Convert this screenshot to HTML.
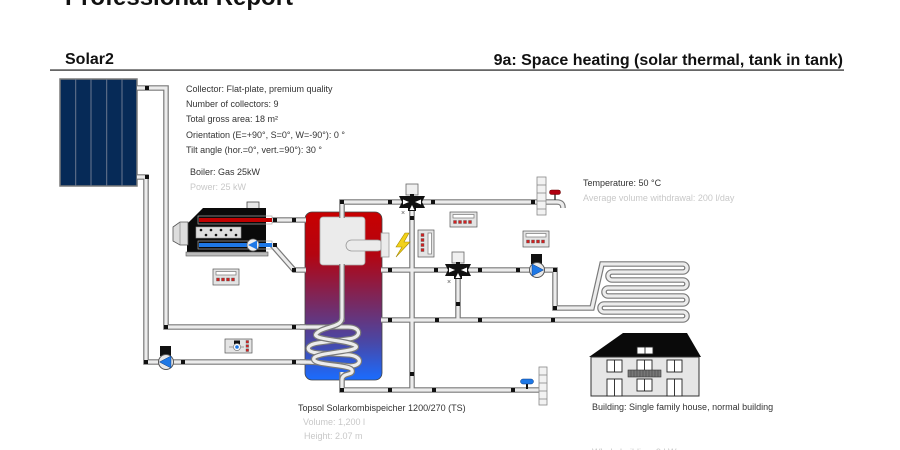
<!DOCTYPE html>
<html><head><meta charset="utf-8">
<style>
html,body{margin:0;padding:0;background:#fff;}
svg{display:block;}
text{font-family:"Liberation Sans",Arial,sans-serif;}
</style></head><body>
<svg width="900" height="450" viewBox="0 0 900 450" xmlns="http://www.w3.org/2000/svg">
<defs>
<linearGradient id="tg" x1="0" y1="0" x2="0" y2="1">
<stop offset="0" stop-color="#c80000"/>
<stop offset="0.25" stop-color="#b40410"/>
<stop offset="0.52" stop-color="#7c275c"/>
<stop offset="0.78" stop-color="#4848a8"/>
<stop offset="1" stop-color="#1a6cff"/>
</linearGradient>
<path id="p1" d="M137,88 H166 V327 H306"/>
<path id="p2" d="M137,177 H146 V362 H306"/>
<path id="p3" d="M272,220 H306"/>
<path id="p4" d="M272,245 L294,270 H306"/>
<path id="p5" d="M342,218 V202 H538"/>
<path id="p6" d="M412,206 V390"/>
<path id="p8" d="M381,320 H683 A4,4 0 0 0 683,312 H604 A4,4 0 0 1 604,304 H683 A4,4 0 0 0 683,296 H608 A4,4 0 0 1 608,288 H683 A4,4 0 0 0 683,280 H612 A4,4 0 0 1 612,272 H683 A4,4 0 0 0 683,264 H602 L592,308 H555 V270 H381"/>
<path id="p9" d="M458,272 V320"/>
<path id="p10" d="M342,372 V390 H539"/>
<path id="p11" d="M546,202 H557 Q563,202 563,208"/>
<path id="p12" d="M342,264 V322"/>
<path id="c1" d="M300,327 H348 C362,327 362,338 348,339 L318,343 C305,345 305,352 318,353 L350,355 C363,357 362,366 350,366 L330,364 Q318,362 300,362"/>
<path id="c2" d="M342,318 C342,328 322,326 316,334 C312,340 350,340 356,346 C360,352 318,352 314,358 C310,366 350,364 352,370 C354,376 342,372 342,380"/>
</defs>

<!-- Header -->
<text x="65" y="5" font-size="24" font-weight="bold" fill="#111">Professional Report</text>
<text x="65" y="64" font-size="16" font-weight="bold" fill="#111">Solar2</text>
<text x="843" y="65" font-size="16" font-weight="bold" fill="#111" text-anchor="end">9a: Space heating (solar thermal, tank in tank)</text>
<rect x="50" y="69.3" width="794" height="1.6" fill="#555"/>

<!-- Collector -->
<rect x="60" y="79" width="77" height="107" fill="#062a57" stroke="#7a7a7a" stroke-width="1.5"/>
<g stroke="#6a7890" stroke-width="1">
<line x1="75.7" y1="79" x2="75.7" y2="186"/>
<line x1="91" y1="79" x2="91" y2="186"/>
<line x1="106.7" y1="79" x2="106.7" y2="186"/>
<line x1="122" y1="79" x2="122" y2="186"/>
</g>

<!-- Tank -->
<rect x="305" y="212" width="77" height="168" rx="7" fill="url(#tg)" stroke="#444" stroke-width="0.8"/>
<rect x="320" y="217" width="45" height="48" rx="3" fill="#ebebeb" stroke="#aaa" stroke-width="0.8"/>
<rect x="346" y="240" width="37" height="11" rx="5.5" fill="#ebebeb" stroke="#999" stroke-width="0.8"/>
<rect x="381" y="233" width="8" height="24" fill="#ebebeb" stroke="#999" stroke-width="0.8"/>

<!-- Pipes outer -->
<g fill="none" stroke="#7a7a7a" stroke-width="5.6">
<use href="#p1"/><use href="#p2"/><use href="#p3"/><use href="#p4"/><use href="#p5"/><use href="#p6"/>
<use href="#p8"/><use href="#p9"/><use href="#p10"/><use href="#p11"/><use href="#p12"/>
<use href="#c1"/><use href="#c2"/>
</g>
<g fill="none" stroke="#ececec" stroke-width="3.2">
<use href="#p1"/><use href="#p2"/><use href="#p3"/><use href="#p4"/><use href="#p5"/><use href="#p6"/>
<use href="#p8"/><use href="#p9"/><use href="#p10"/><use href="#p11"/><use href="#p12"/>
<use href="#c1"/>
</g>
<g fill="none" stroke="#7a7a7a" stroke-width="5.6"><use href="#c2"/></g>
<g fill="none" stroke="#ececec" stroke-width="3.2"><use href="#c2"/></g>

<!-- joints -->
<g fill="#111">
<rect x="145" y="86" width="4" height="4"/>
<rect x="164" y="325" width="4" height="4"/>
<rect x="292" y="325" width="4" height="4"/>
<rect x="145" y="175" width="4" height="4"/>
<rect x="144" y="360" width="4" height="4"/>
<rect x="181" y="360" width="4" height="4"/>
<rect x="292" y="360" width="4" height="4"/>
<rect x="273" y="218" width="4" height="4"/>
<rect x="292" y="218" width="4" height="4"/>
<rect x="273" y="243" width="4" height="4"/>
<rect x="292" y="268" width="4" height="4"/>
<rect x="340" y="200" width="4" height="4"/>
<rect x="388" y="200" width="4" height="4"/>
<rect x="431" y="200" width="4" height="4"/>
<rect x="531" y="200" width="4" height="4"/>
<rect x="410" y="216" width="4" height="4"/>
<rect x="410" y="372" width="4" height="4"/>
<rect x="388" y="268" width="4" height="4"/>
<rect x="434" y="268" width="4" height="4"/>
<rect x="478" y="268" width="4" height="4"/>
<rect x="516" y="268" width="4" height="4"/>
<rect x="553" y="268" width="4" height="4"/>
<rect x="553" y="306" width="4" height="4"/>
<rect x="388" y="318" width="4" height="4"/>
<rect x="435" y="318" width="4" height="4"/>
<rect x="456" y="302" width="4" height="4"/>
<rect x="478" y="318" width="4" height="4"/>
<rect x="551" y="318" width="4" height="4"/>
<rect x="340" y="388" width="4" height="4"/>
<rect x="388" y="388" width="4" height="4"/>
<rect x="432" y="388" width="4" height="4"/>
<rect x="511" y="388" width="4" height="4"/>
</g>

<!-- Boiler -->
<rect x="247" y="202" width="12" height="8" fill="#e6e6e6" stroke="#444" stroke-width="0.8"/>
<polygon points="203,208 266,208 266,253 187,253 187,224" fill="#0a0a0a"/>
<rect x="186" y="252" width="82" height="4" fill="#bbb" stroke="#555" stroke-width="0.6"/>
<polygon points="173,227 180,222 188,222 188,245 180,245 173,241" fill="#ddd" stroke="#555" stroke-width="0.8"/>
<line x1="180" y1="222" x2="180" y2="245" stroke="#777" stroke-width="0.6"/>
<rect x="198" y="216" width="74" height="8" fill="none" stroke="#aaa" stroke-width="0.7"/>
<rect x="199" y="218" width="73" height="4" fill="#c00000"/>
<rect x="196" y="227" width="45" height="11" fill="#ddd" stroke="#999" stroke-width="0.6"/>
<g fill="#111">
<circle cx="201" cy="230" r="1.3"/><circle cx="211" cy="230" r="1.3"/><circle cx="221" cy="230" r="1.3"/><circle cx="231" cy="230" r="1.3"/>
<circle cx="206" cy="235" r="1.3"/><circle cx="216" cy="235" r="1.3"/><circle cx="226" cy="235" r="1.3"/><circle cx="236" cy="235" r="1.3"/>
</g>
<rect x="198" y="241" width="74" height="8" fill="none" stroke="#aaa" stroke-width="0.7"/>
<rect x="199" y="243" width="73" height="4" fill="#1e78e6"/>
<circle cx="253" cy="245" r="6" fill="#eee" stroke="#666" stroke-width="0.8"/>
<polygon points="248,245 257,240.5 257,249.5" fill="#1e78e6"/>

<!-- Pumps -->
<rect x="160" y="346" width="11" height="10" fill="#111"/>
<circle cx="166" cy="362" r="7.5" fill="#e8e8e8" stroke="#555" stroke-width="1"/>
<polygon points="159.5,362 171,356 171,368" fill="#1e78e6" stroke="#0a3a80" stroke-width="0.5"/>
<rect x="531" y="254" width="11" height="10" fill="#111"/>
<circle cx="537" cy="270" r="7.5" fill="#e8e8e8" stroke="#555" stroke-width="1"/>
<polygon points="543.5,270 532,264 532,276" fill="#1e78e6" stroke="#0a3a80" stroke-width="0.5"/>

<!-- Valve 1 -->
<rect x="406" y="184" width="12" height="11" fill="#f0f0f0" stroke="#666" stroke-width="0.8"/>
<rect x="410" y="194" width="4" height="3" fill="#111"/>
<polygon points="399,196 425,196 422,202 425,208 416,208 416,211 408,211 408,208 399,208 402,202" fill="#111"/>
<polygon points="403,199.5 409,202 403,204.5" fill="#fff"/>
<polygon points="421,199.5 415,202 421,204.5" fill="#fff"/>
<polygon points="409.5,210 412,205 414.5,210" fill="#fff"/>
<text x="401" y="215" font-size="7" fill="#555">×</text>
<!-- Valve 2 -->
<rect x="452" y="252" width="12" height="11" fill="#f0f0f0" stroke="#666" stroke-width="0.8"/>
<rect x="456" y="262" width="4" height="3" fill="#111"/>
<polygon points="445,264 471,264 468,270 471,276 462,276 462,279 454,279 454,276 445,276 448,270" fill="#111"/>
<polygon points="449,267.5 455,270 449,272.5" fill="#fff"/>
<polygon points="467,267.5 461,270 467,272.5" fill="#fff"/>
<polygon points="455.5,278 458,273 460.5,278" fill="#fff"/>
<text x="447" y="284" font-size="7" fill="#555">×</text>

<!-- Lightning -->
<polygon points="405,233 396,247 402,247 396,257 410,242 404,242 409,233" fill="#f2d21a" stroke="#a88a00" stroke-width="0.6"/>

<!-- Controllers -->
<g stroke-width="0.7">
<rect x="213" y="269" width="26" height="16" fill="#e4e4e4" stroke="#555"/>
<rect x="216" y="271.5" width="20" height="3.5" fill="#fff" stroke="#777"/>
<g fill="#d42020" stroke="#555" stroke-width="0.4"><rect x="216.5" y="278" width="3" height="3"/><rect x="221.5" y="278" width="3" height="3"/><rect x="226.5" y="278" width="3" height="3"/><rect x="231.5" y="278" width="3" height="3"/></g>

<rect x="450" y="212" width="27" height="15" fill="#e4e4e4" stroke="#555"/>
<rect x="453" y="214.5" width="21" height="3.5" fill="#fff" stroke="#777"/>
<g fill="#d42020" stroke="#555" stroke-width="0.4"><rect x="453.5" y="220.5" width="3" height="3"/><rect x="458.5" y="220.5" width="3" height="3"/><rect x="463.5" y="220.5" width="3" height="3"/><rect x="468.5" y="220.5" width="3" height="3"/></g>

<rect x="523" y="231" width="26" height="16" fill="#e4e4e4" stroke="#555"/>
<rect x="526" y="233.5" width="20" height="3.5" fill="#fff" stroke="#777"/>
<g fill="#d42020" stroke="#555" stroke-width="0.4"><rect x="526.5" y="240" width="3" height="3"/><rect x="531.5" y="240" width="3" height="3"/><rect x="536.5" y="240" width="3" height="3"/><rect x="541.5" y="240" width="3" height="3"/></g>

<rect x="418" y="230" width="16" height="27" fill="#e4e4e4" stroke="#555"/>
<rect x="428" y="233" width="3.5" height="21" fill="#fff" stroke="#777"/>
<g fill="#d42020" stroke="#555" stroke-width="0.4"><rect x="421" y="233.5" width="3" height="3"/><rect x="421" y="238.5" width="3" height="3"/><rect x="421" y="243.5" width="3" height="3"/><rect x="421" y="248.5" width="3" height="3"/></g>

<rect x="225" y="339" width="27" height="14" fill="#e4e4e4" stroke="#555"/>
<rect x="234" y="340.5" width="6" height="3.5" fill="#111" stroke="none"/>
<circle cx="237" cy="347" r="3.5" fill="#fff" stroke="#777"/>
<circle cx="237" cy="347" r="1.8" fill="#1e78e6" stroke="none"/>
<line x1="229" y1="347" x2="233" y2="347" stroke="#777"/>
<line x1="241" y1="347" x2="244" y2="347" stroke="#777"/>
<g fill="#d42020" stroke="#555" stroke-width="0.4"><rect x="246" y="340.5" width="2.6" height="2.6"/><rect x="246" y="344.7" width="2.6" height="2.6"/><rect x="246" y="348.9" width="2.6" height="2.6"/></g>
</g>

<!-- Walls / faucets -->
<rect x="537" y="177" width="9" height="38" fill="#f2f2f2" stroke="#888" stroke-width="0.8"/>
<g stroke="#888" stroke-width="0.8"><line x1="537" y1="185" x2="546" y2="185"/><line x1="537" y1="193" x2="546" y2="193"/><line x1="537" y1="201" x2="546" y2="201"/><line x1="537" y1="209" x2="546" y2="209"/></g>
<line x1="555" y1="194" x2="555" y2="200" stroke="#333" stroke-width="1.4"/>
<rect x="549.5" y="190" width="11" height="4.5" rx="2" fill="#b00010" stroke="#600" stroke-width="0.5"/>

<rect x="539" y="367" width="8" height="38" fill="#f2f2f2" stroke="#888" stroke-width="0.8"/>
<g stroke="#888" stroke-width="0.8"><line x1="539" y1="375" x2="547" y2="375"/><line x1="539" y1="383" x2="547" y2="383"/><line x1="539" y1="391" x2="547" y2="391"/><line x1="539" y1="399" x2="547" y2="399"/></g>
<line x1="527" y1="384" x2="527" y2="389" stroke="#111" stroke-width="2"/>
<rect x="520.5" y="379" width="13" height="5" rx="2.5" fill="#1e78e6" stroke="#0a3a80" stroke-width="0.5"/>

<!-- House -->
<polygon points="623,333 687,333 701,357 589,357" fill="#0a0a0a"/>
<rect x="591" y="357" width="108" height="39" fill="#e6e6e6" stroke="#333" stroke-width="1"/>
<g fill="#fff" stroke="#222" stroke-width="0.9">
<rect x="637" y="347" width="16" height="7"/>
<rect x="607" y="360" width="15" height="12"/><rect x="637" y="360" width="15" height="12"/><rect x="667" y="360" width="15" height="12"/>
<rect x="607" y="379" width="15" height="17"/><rect x="637" y="379" width="15" height="12"/><rect x="667" y="379" width="15" height="17"/>
</g>
<g stroke="#222" stroke-width="0.9">
<line x1="645" y1="347" x2="645" y2="354"/>
<line x1="614.5" y1="360" x2="614.5" y2="372"/><line x1="644.5" y1="360" x2="644.5" y2="372"/><line x1="674.5" y1="360" x2="674.5" y2="372"/>
<line x1="614.5" y1="379" x2="614.5" y2="396"/><line x1="644.5" y1="379" x2="644.5" y2="391"/><line x1="674.5" y1="379" x2="674.5" y2="396"/>
</g>
<rect x="628" y="370" width="33" height="7" fill="#777" stroke="#333" stroke-width="0.6"/>
<g stroke="#444" stroke-width="0.6">
<line x1="631" y1="370" x2="631" y2="377"/><line x1="634" y1="370" x2="634" y2="377"/><line x1="637" y1="370" x2="637" y2="377"/><line x1="640" y1="370" x2="640" y2="377"/><line x1="643" y1="370" x2="643" y2="377"/><line x1="646" y1="370" x2="646" y2="377"/><line x1="649" y1="370" x2="649" y2="377"/><line x1="652" y1="370" x2="652" y2="377"/><line x1="655" y1="370" x2="655" y2="377"/><line x1="658" y1="370" x2="658" y2="377"/>
</g>

<!-- Labels -->
<g font-size="9" fill="#333">
<text x="186" y="92">Collector: Flat-plate, premium quality</text>
<text x="186" y="107">Number of collectors: 9</text>
<text x="186" y="122">Total gross area: 18 m²</text>
<text x="186" y="138">Orientation (E=+90°, S=0°, W=-90°): 0 °</text>
<text x="186" y="153">Tilt angle (hor.=0°, vert.=90°): 30 °</text>
<text x="190" y="175">Boiler: Gas 25kW</text>
<text x="583" y="186">Temperature: 50 °C</text>
<text x="298" y="411">Topsol Solarkombispeicher 1200/270 (TS)</text>
<text x="592" y="410">Building: Single family house, normal building</text>
</g>
<g font-size="9" fill="#c8c8c8">
<text x="190" y="190">Power: 25 kW</text>
<text x="583" y="201">Average volume withdrawal: 200 l/day</text>
<text x="303" y="425">Volume: 1,200 l</text>
<text x="304" y="439">Height: 2.07 m</text>
<text x="592" y="455">Whole building: 9 kW</text>
</g>
</svg>
</body></html>
